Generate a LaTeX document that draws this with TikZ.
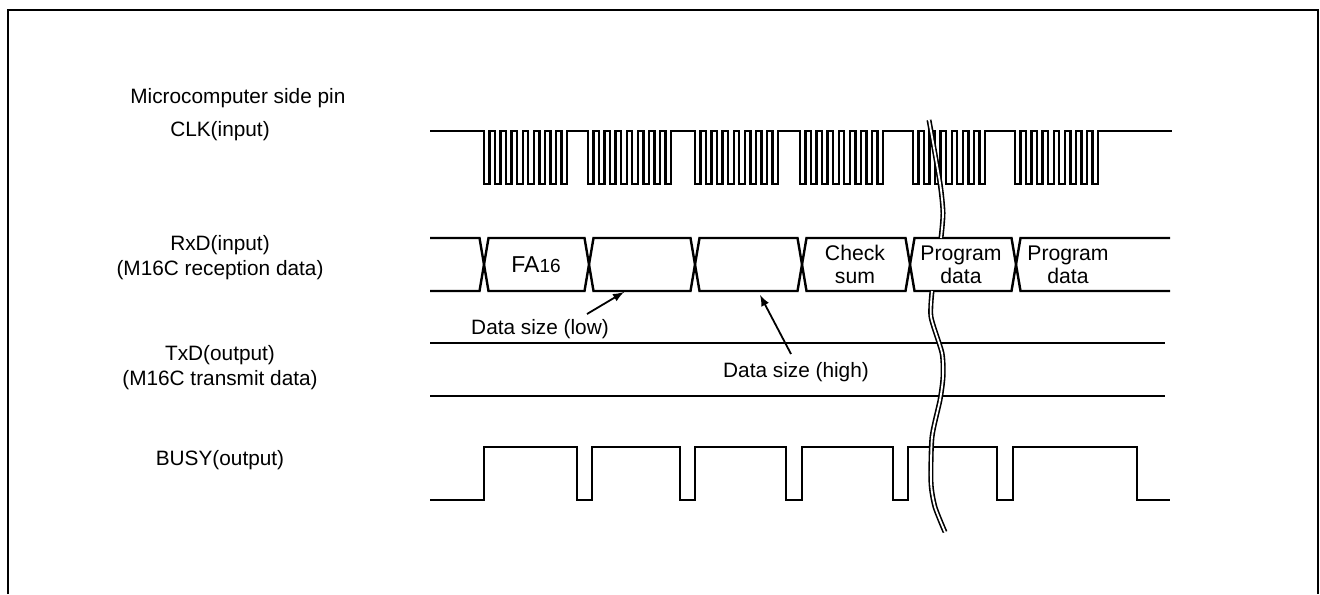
\documentclass[tikz,border=0pt]{standalone}
\usepackage{fontspec}
\setmainfont{Liberation Sans}
\usetikzlibrary{positioning}

\begin{document}
\begin{tikzpicture}[x=0.5pt, y=-0.5pt,
        lbl/.style={align=center, inner sep=0pt, font=\fontsize{10.4}{12.5}\selectfont},
        cell/.style={align=center, inner sep=0pt, font=\fontsize{10.6}{11.5}\selectfont},
        sig/.style={line width=1.2pt}]
        \useasboundingbox (0,0) rectangle (1320,594);
        \draw[line width=1.1pt] (8,594) -- (8,10) -- (1318,10) -- (1318,594);

        \node[lbl, anchor=west] (title) at (130,98) {Microcomputer side pin};
        \node[lbl] (clk) at (220,131) {CLK(input)};
        \node[lbl] (rxd) at (220,257.5) {RxD(input)\\(M16C reception data)};
        \node[lbl] (txd) at (220,367.5) {TxD(output)\\(M16C transmit data)};
        \node[lbl] (busy) at (220,460) {BUSY(output)};

        % clock bursts
        \draw[sig] (430,131)
            \foreach \s/\n in {484/7, 588/7, 695/7, 800/7, 913/6, 1015/7} {
                -- (\s,131)
                \foreach \k in {0,...,\n} { -- ++(0,53) -- ++(5.53,0) -- ++(0,-53) -- ++(5.53,0) }
            } -- (1172,131);

        % receive data
        \draw[sig] (430,238) -- (479.5,238) -- (484,264.5) -- (479.5,291) -- (430,291);
        \foreach \a/\b in {484/589, 589/695, 695/802, 802/910, 910/1016}
            \draw[sig] (\a,264.5) -- (\a+4.5,238) -- (\b-4.5,238) -- (\b,264.5)
                -- (\b-4.5,291) -- (\a+4.5,291) -- cycle;
        \draw[sig] (1170,238) -- (1020.5,238) -- (1016,264.5) -- (1020.5,291) -- (1170,291);

        % transmit data
        \draw[sig] (430,343) -- (1165,343)
            (430,396) -- (1165,396);

        % busy
        \draw[sig] (430,500) -- (484,500) -- (484,447)
            \foreach \f/\r in {577/592, 680/695, 786/802, 893/908, 997/1013} {
                -- (\f,447) -- (\f,500) -- (\r,500) -- (\r,447)
            } -- (1137,447) -- (1137,500) -- (1170,500);

        % break mark
        \draw[line width=.8pt, double, double distance=.9pt]
            plot[smooth, tension=.4] coordinates {(929,120) (940,183) (943,213) (941,238)};
        \draw[line width=.8pt, double, double distance=.9pt]
            plot[smooth, tension=.4] coordinates {(932,291) (931,317) (942,353) (943,377)
                (940,400) (932,437) (931,483) (935,507) (945,532)};

        \node[cell] (fa) at (536,265) {\fontsize{11.5}{12}\selectfont FA{\fontsize{9.5}{10}\selectfont 16}};
        \node[cell] (sum) at (855,264.5) {Check\\sum};
        \node[cell] (prog1) at (961,264.5) {Program\\data};
        \node[cell] (prog2) at (1068,264.5) {Program\\data};

        \node[lbl] (lowlbl) at (540,329) {Data size (low)};
        \coordinate (lowtail) at (587,314);
        \coordinate (lowtip) at (624,292);
        \draw[-latex, line width=.9pt] (lowtail) -- (lowtip);

        \node[lbl] (highlbl) at (796,372) {Data size (high)};
        \coordinate (hightail) at (791,354);
        \coordinate (hightip) at (760,295);
        \draw[-latex, line width=.9pt] (hightail) -- (hightip);
    \end{tikzpicture}
\end{document}
